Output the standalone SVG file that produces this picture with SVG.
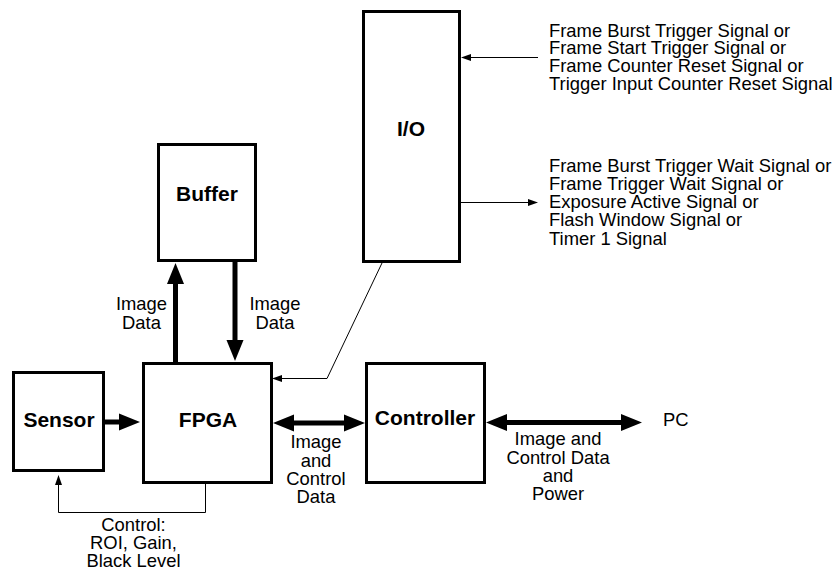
<svg xmlns="http://www.w3.org/2000/svg" width="839" height="574" viewBox="0 0 839 574">
<style>
.box{fill:#fff;stroke:#000;stroke-width:3}
.bl{font-family:"Liberation Sans",Arial,sans-serif;font-weight:bold;font-size:21px;fill:#000;text-anchor:middle}
.t{font-family:"Liberation Sans",Arial,sans-serif;font-size:18.4px;fill:#000}
.c{text-anchor:middle}
.thick{stroke:#000;stroke-width:5;fill:none}
.thin{stroke:#000;stroke-width:1;fill:none}
</style>
<defs>
<marker id="big" markerUnits="userSpaceOnUse" markerWidth="22" markerHeight="18" refX="0" refY="8.5" orient="auto-start-reverse" overflow="visible">
<path d="M0,0 L21,8.5 L0,17 Z" fill="#000"/>
</marker>
<marker id="small" markerUnits="userSpaceOnUse" markerWidth="11" markerHeight="8" refX="0" refY="3.5" orient="auto-start-reverse" overflow="visible">
<path d="M0,0 L10,3.5 L0,7 Z" fill="#000"/>
</marker>
</defs>
<g id="connectors">
<line class="thick" x1="175.5" y1="362" x2="175.5" y2="284" marker-end="url(#big)"/>
<line class="thick" x1="235" y1="262" x2="235" y2="340" marker-end="url(#big)"/>
<line class="thick" x1="105" y1="422" x2="119" y2="422" marker-end="url(#big)"/>
<line class="thick" x1="294" y1="423" x2="344" y2="423" marker-start="url(#big)" marker-end="url(#big)"/>
<line class="thick" x1="507" y1="422.5" x2="621" y2="422.5" marker-start="url(#big)" marker-end="url(#big)"/>
<polyline class="thin" points="205.5,483 205.5,512.5 58.5,512.5 58.5,485" marker-end="url(#small)"/>
<polyline class="thin" points="382,263 327,378.5 282,378.5" marker-end="url(#small)"/>
<line class="thin" x1="538" y1="57.5" x2="471" y2="57.5" marker-end="url(#small)"/>
<line class="thin" x1="461" y1="202.5" x2="528" y2="202.5" marker-end="url(#small)"/>
<text class="t c" x="141.5"><tspan x="141.5" y="310">Image</tspan><tspan x="141.5" y="329">Data</tspan></text>
<text class="t c" x="275"><tspan x="275" y="310">Image</tspan><tspan x="275" y="329">Data</tspan></text>
<text class="t c"><tspan x="316" y="448">Image</tspan><tspan x="316" y="466.5">and</tspan><tspan x="316" y="485">Control</tspan><tspan x="316" y="503">Data</tspan></text>
<text class="t c"><tspan x="558" y="445">Image and</tspan><tspan x="558" y="463.5">Control Data</tspan><tspan x="558" y="482">and</tspan><tspan x="558" y="500">Power</tspan></text>
<text class="t c"><tspan x="133.5" y="530.5">Control:</tspan><tspan x="133.5" y="548.5">ROI, Gain,</tspan><tspan x="133.5" y="566.5">Black Level</tspan></text>
<text class="t"><tspan x="549" y="36.5">Frame Burst Trigger Signal or</tspan><tspan x="549" y="54.3">Frame Start Trigger Signal or</tspan><tspan x="549" y="72.1">Frame Counter Reset Signal or</tspan><tspan x="549" y="90">Trigger Input Counter Reset Signal</tspan></text>
<text class="t"><tspan x="549" y="171.5">Frame Burst Trigger Wait Signal or</tspan><tspan x="549" y="189.8">Frame Trigger Wait Signal or</tspan><tspan x="549" y="208.1">Exposure Active Signal or</tspan><tspan x="549" y="226.4">Flash Window Signal or</tspan><tspan x="549" y="244.7">Timer 1 Signal</tspan></text>
</g>
<g id="buffer"><rect class="box" x="158.5" y="144.5" width="97" height="116"/><text class="bl" x="207" y="200.5">Buffer</text></g>
<g id="io"><rect class="box" x="363.5" y="11.5" width="96" height="250"/><text class="bl" x="411" y="136">I/O</text></g>
<g id="fpga"><rect class="box" x="143.5" y="363.5" width="128" height="119"/><text class="bl" x="208" y="426.5">FPGA</text></g>
<g id="sensor"><rect class="box" x="13.5" y="372.5" width="90" height="98"/><text class="bl" x="59" y="427">Sensor</text></g>
<g id="controller"><rect class="box" x="366.5" y="363.5" width="118" height="119"/><text class="bl" x="425" y="425">Controller</text></g>
<g id="pc"><text class="t" x="663" y="426">PC</text></g>
</svg>
